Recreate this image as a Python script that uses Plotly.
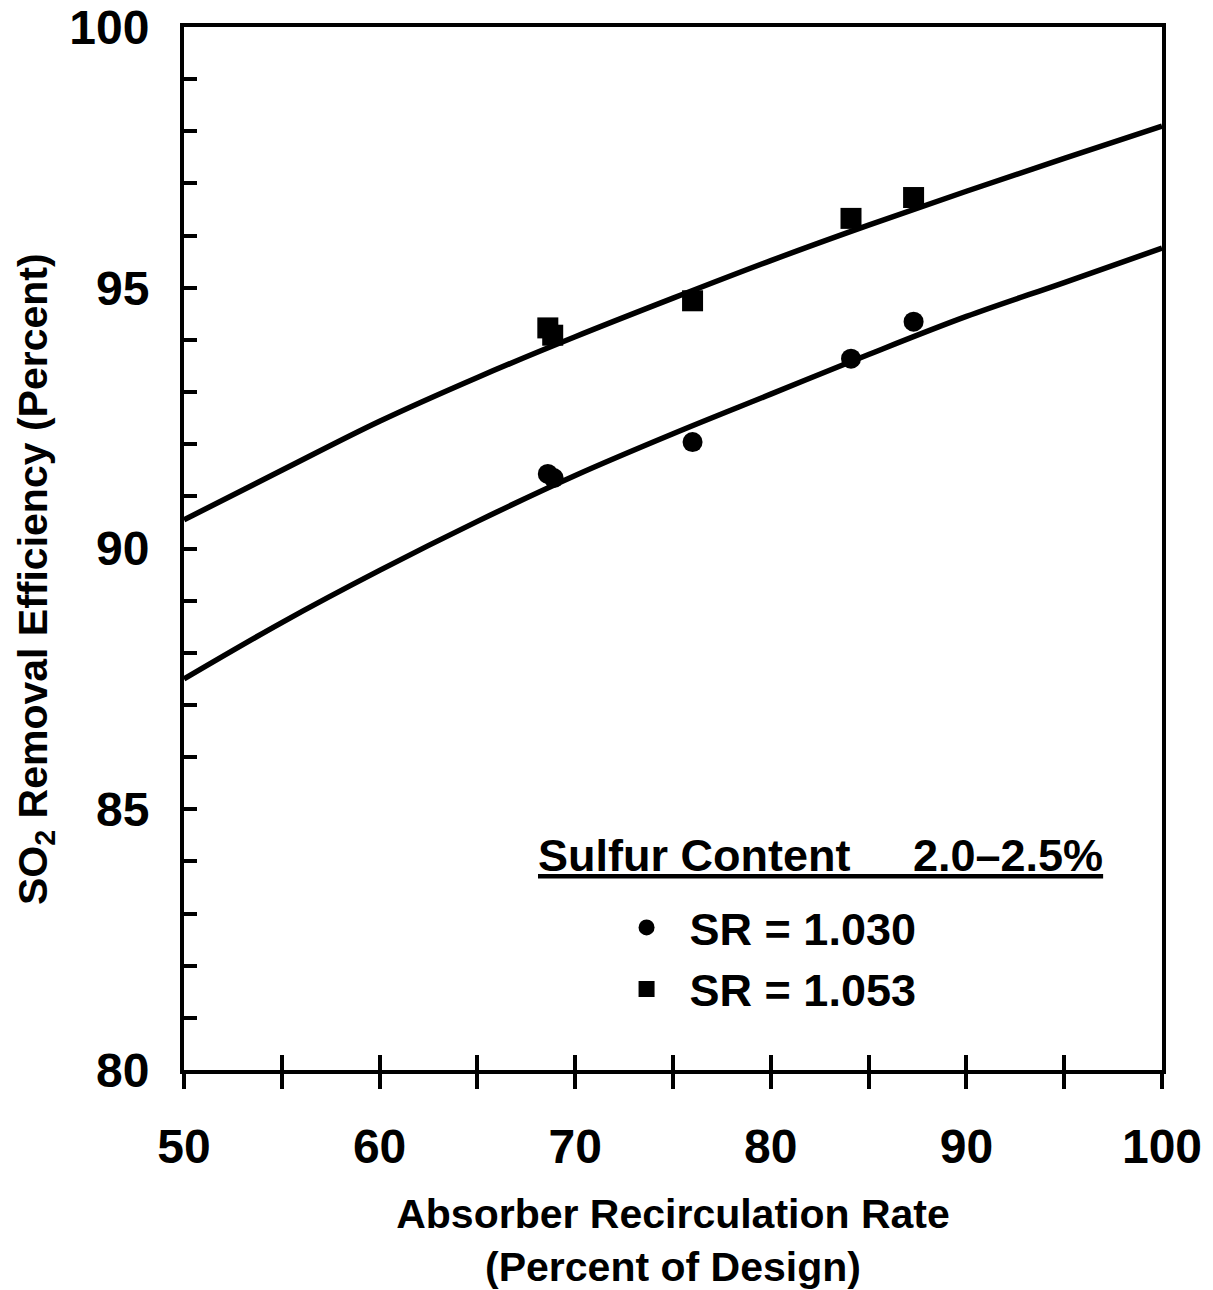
import plotly.graph_objects as go

# Fitted curves, read at every 5 % of design recirculation rate
rate_grid = [50, 55, 60, 65, 70, 75, 80, 85, 90, 95, 100]
fit_sr_1053 = [90.55, 91.50, 92.44, 93.28, 94.06, 94.80, 95.52, 96.20, 96.85, 97.48, 98.10]
fit_sr_1030 = [87.50, 88.58, 89.58, 90.52, 91.40, 92.20, 92.96, 93.72, 94.45, 95.10, 95.76]

# Measured points
rate_sr_1030 = [68.6, 68.9, 76.0, 84.1, 87.3]
eff_sr_1030 = [91.43, 91.35, 92.04, 93.64, 94.35]
rate_sr_1053 = [68.6, 68.85, 76.0, 84.1, 87.3]
eff_sr_1053 = [94.23, 94.09, 94.75, 96.33, 96.73]

# Axis ticks
x_label_vals = [50, 60, 70, 80, 90, 100]
x_tick_vals = [50, 55, 60, 65, 70, 75, 80, 85, 90, 95, 100]
y_label_vals = [80, 85, 90, 95, 100]

FONT = "Liberation Sans"
INK = "black"

fig = go.Figure()

# Fitted curves
for ys in (fit_sr_1053, fit_sr_1030):
    fig.add_trace(go.Scatter(
        x=rate_grid, y=ys, mode="lines", xaxis="x2",
        line=dict(color=INK, width=5.5, shape="spline", smoothing=1.0),
        showlegend=False, hoverinfo="skip",
    ))

# White halos that open a small gap in the curves around each point
for xs, ys, sym in ((rate_sr_1030, eff_sr_1030, "circle"),
                    (rate_sr_1053, eff_sr_1053, "square")):
    fig.add_trace(go.Scatter(
        x=xs, y=ys, mode="markers",
        marker=dict(symbol=sym, size=27, color="white"),
        showlegend=False, hoverinfo="skip",
    ))

fig.add_trace(go.Scatter(
    x=rate_sr_1030, y=eff_sr_1030, mode="markers", name="SR = 1.030",
    marker=dict(symbol="circle", size=20, color=INK),
))
fig.add_trace(go.Scatter(
    x=rate_sr_1053, y=eff_sr_1053, mode="markers", name="SR = 1.053",
    marker=dict(symbol="square", size=21, color=INK),
))

tick_font = dict(family=FONT, size=48, color=INK, weight=700)
title_font = dict(family=FONT, size=41, color=INK, weight=700)

fig.update_layout(
    width=1213, height=1290,
    margin=dict(l=184, r=51, t=27, b=220),
    paper_bgcolor="white", plot_bgcolor="white",
    font=dict(family=FONT, color=INK),
    xaxis=dict(
        range=[50, 100], tickmode="array", tickvals=x_label_vals,
        ticks="outside", ticklen=15, tickwidth=4, tickcolor=INK,
        minor=dict(tickmode="array", tickvals=x_tick_vals, ticks="outside",
                   ticklen=15, tickwidth=4, tickcolor=INK, showgrid=False),
        ticklabelstandoff=16, automargin=False,
        showline=True, linewidth=4, linecolor=INK, mirror=True,
        showgrid=False, zeroline=False, tickfont=tick_font,
        title=dict(text="Absorber Recirculation Rate<br>(Percent of Design)",
                   font=title_font, standoff=36),
    ),
    xaxis2=dict(
        range=[50, 100], overlaying="x", anchor="y", side="bottom",
        tickmode="array", tickvals=x_tick_vals, ticks="inside", ticklen=15,
        tickwidth=4, tickcolor=INK, showticklabels=False, showline=False,
        showgrid=False, zeroline=False, automargin=False,
    ),
    yaxis=dict(
        range=[80, 100], tickmode="array", tickvals=y_label_vals,
        ticks="inside", ticklen=13, tickwidth=4, tickcolor=INK,
        minor=dict(dtick=1, tick0=80, ticks="inside", ticklen=13,
                   tickwidth=4, tickcolor=INK, showgrid=False),
        ticklabelstandoff=21, automargin=False,
        showline=True, linewidth=4, linecolor=INK, mirror=True,
        showgrid=False, zeroline=False, tickfont=tick_font,
    ),
    legend=dict(
        x=0.429, y=0.171, xanchor="left", yanchor="top",
        font=dict(family=FONT, size=45, color=INK, weight=700),
        itemwidth=76, bgcolor="rgba(0,0,0,0)", borderwidth=0,
        tracegroupgap=0,
    ),
    annotations=[
        dict(
            text="<u>Sulfur Content\u00a0\u00a0\u00a0\u00a0 2.0\u20132.5%</u>",
            xref="paper", yref="paper", x=0.36, y=0.206,
            xanchor="left", yanchor="middle", showarrow=False,
            font=dict(family=FONT, size=45, color=INK, weight=700),
        ),
        dict(
            text="SO<sub>2</sub> Removal Efficiency (Percent)",
            xref="paper", yref="paper", x=-0.152, y=0.471,
            xanchor="center", yanchor="middle", textangle=-90,
            showarrow=False, font=title_font,
        ),
    ],
)

fig.write_html("out.html")
